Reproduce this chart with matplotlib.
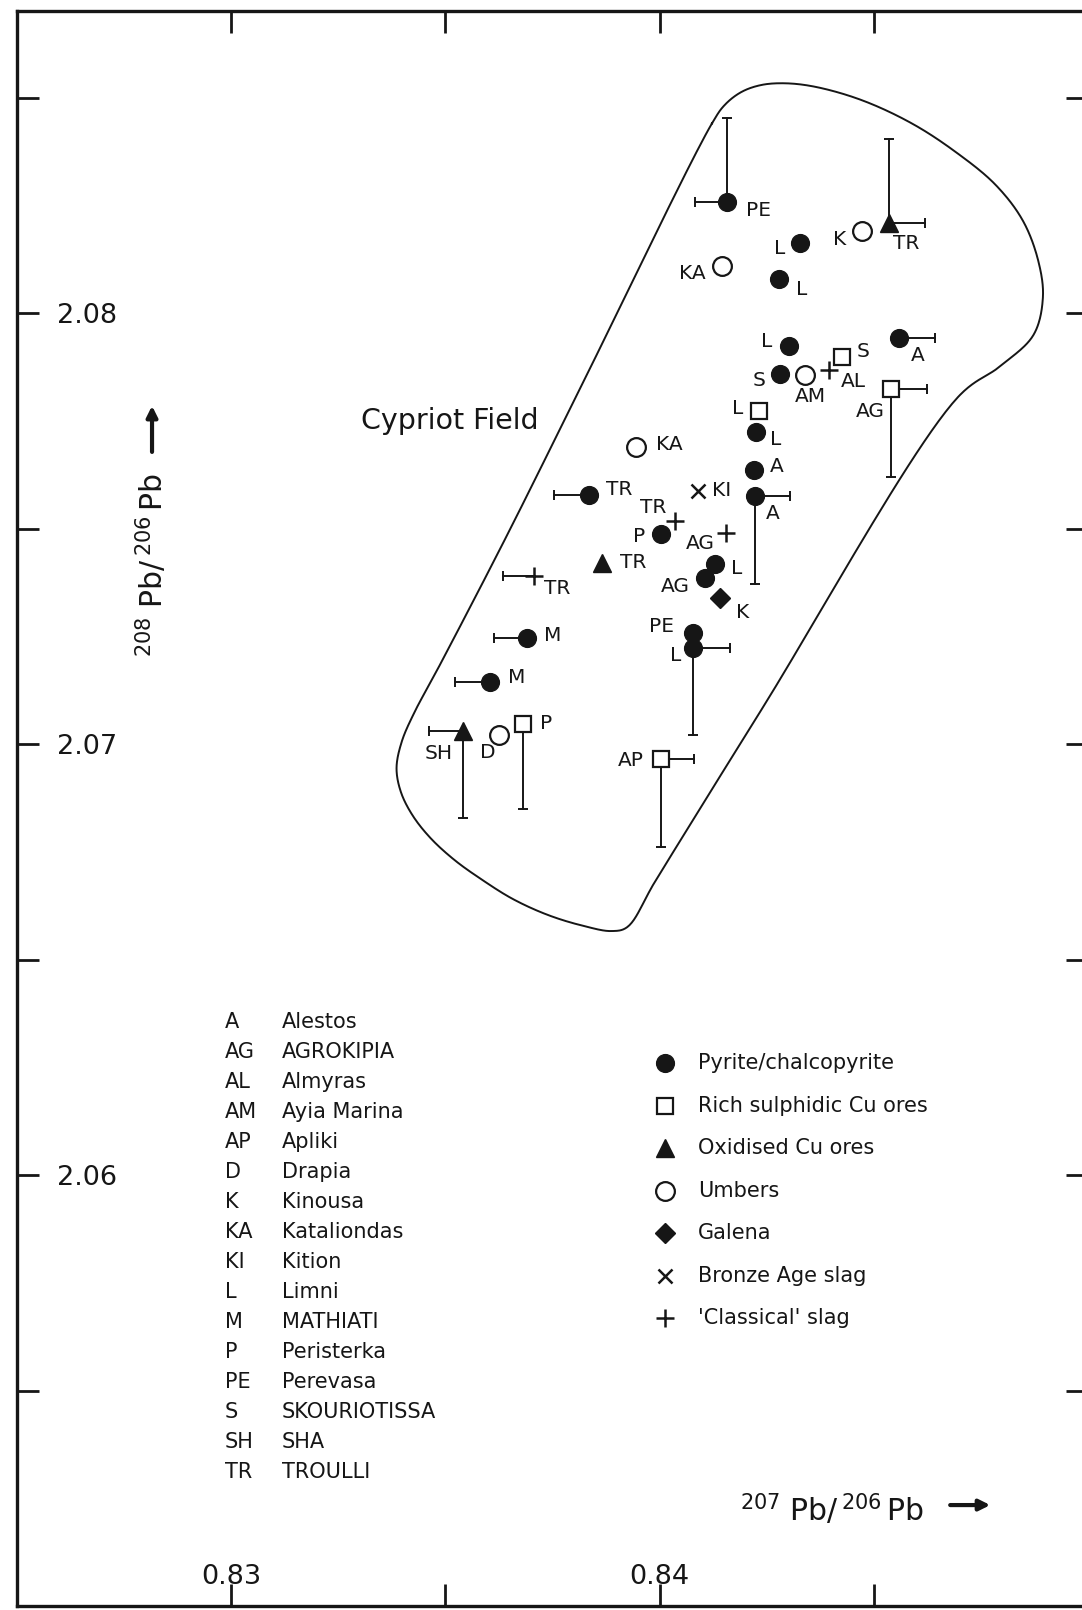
"""
Lead isotope diagram for Cypriot ores, umbers and slags:
208Pb/206Pb against 207Pb/206Pb with the Cypriot field outline.
"""
import matplotlib
matplotlib.use("Agg")
import matplotlib.pyplot as plt
import numpy as np

plt.rcParams['font.family'] = ['DejaVu Sans']
plt.rcParams['mathtext.fontset'] = 'dejavusans'

INK = '#161616'

# one entry per analysis
site = ['PE', 'L', 'KA', 'L', 'K', 'TR', 'L', 'A', 'S', 'S', 'AM', 'AL',
        'AG', 'L', 'L', 'KA', 'A', 'TR', 'KI', 'A', 'TR', 'P', 'AG', 'TR',
        'L', 'AG', 'K', 'TR', 'M', 'PE', 'L', 'M', 'SH', 'D', 'P', 'AP']
kind = ['pyrite', 'pyrite', 'umber', 'pyrite', 'umber', 'oxidised',
        'pyrite', 'pyrite', 'sulphidic', 'pyrite', 'umber', 'classical',
        'sulphidic', 'sulphidic', 'pyrite', 'umber', 'pyrite', 'pyrite',
        'bronze', 'pyrite', 'classical', 'pyrite', 'classical', 'oxidised',
        'pyrite', 'pyrite', 'galena', 'classical', 'pyrite', 'pyrite',
        'pyrite', 'pyrite', 'oxidised', 'umber', 'sulphidic', 'sulphidic']
pb207 = [0.84157, 0.84328, 0.84145, 0.84279, 0.84472, 0.84536, 0.84301,
         0.84559, 0.84425, 0.84280, 0.84338, 0.84396, 0.84540, 0.84232,
         0.84224, 0.83945, 0.84220, 0.83836, 0.84090, 0.84222, 0.84036,
         0.84004, 0.84155, 0.83866, 0.84130, 0.84105, 0.84141, 0.83707,
         0.83690, 0.84077, 0.84078, 0.83604, 0.83541, 0.83626, 0.83681,
         0.84003]
pb208 = [2.08257, 2.08162, 2.08110, 2.08078, 2.08191, 2.08208, 2.07924,
         2.07941, 2.07899, 2.07858, 2.07855, 2.07868, 2.07824, 2.07773,
         2.07725, 2.07688, 2.07636, 2.07578, 2.07588, 2.07575, 2.07518,
         2.07487, 2.07489, 2.07421, 2.07417, 2.07384, 2.07338, 2.07390,
         2.07245, 2.07257, 2.07222, 2.07145, 2.07030, 2.07021, 2.07046,
         2.06965]
# one-sided error bars, the sign gives the side
err207 = [-0.00075, 0, 0, 0, 0, 0.00083, 0, 0.00083, 0, 0, 0, 0, 0.00083,
          0, 0, 0, 0, -0.00082, 0, 0.00082, 0, 0, 0, 0, 0, 0, 0, -0.00073,
          -0.00077, 0, 0.00085, -0.00082, -0.00079, 0, 0, 0.00077]
err208 = [0.00195, 0, 0, 0, 0, 0.00195, 0, 0, 0, 0, 0, 0, -0.00204,
          0, 0, 0, 0, 0, 0, -0.00204, 0, 0, 0, 0, 0, 0, 0, 0,
          0, 0, -0.00200, 0, -0.00202, 0, -0.00197, -0.00203]
# where each site code sits relative to its point (pixels, y up)
label_offsets = [(32, -8), (-21, -5), (-30, -8), (22, -10), (-22, -9),
                 (17, -20), (-22, 4), (18, -17), (21, 5), (-21, -6),
                 (6, -21), (24, -12), (-21, -23), (-22, 2), (20, -8),
                 (33, 3), (23, 3), (30, 5), (23, 0), (18, -17), (-22, 13),
                 (-22, -2), (-26, -10), (31, 0), (21, -4), (-29, -8),
                 (22, -14), (23, -13), (26, 3), (-31, 7), (-18, -7),
                 (27, 4), (-24, -22), (-12, -18), (23, 1), (-30, -1)]

# outline of the Cypriot field
field_x = [0.84122, 0.84152, 0.84191, 0.84237, 0.84292, 0.84362, 0.84471,
           0.84588, 0.84690, 0.84784, 0.84848, 0.84884, 0.84894, 0.84872,
           0.84795, 0.84696, 0.84237, 0.83991, 0.83924, 0.83887, 0.83822,
           0.83740, 0.83658, 0.83587, 0.83521, 0.83465, 0.83423, 0.83396,
           0.83386, 0.83398, 0.83427, 0.83481, 0.83638, 0.83801]
field_y = [2.08440, 2.08483, 2.08513, 2.08529, 2.08533, 2.08525, 2.08494,
           2.08440, 2.08374, 2.08297, 2.08213, 2.08118, 2.08035, 2.07949,
           2.07877, 2.07805, 2.07079, 2.06684, 2.06575, 2.06566, 2.06578,
           2.06603, 2.06640, 2.06684, 2.06731, 2.06782, 2.06835, 2.06889,
           2.06944, 2.07005, 2.07072, 2.07172, 2.07473, 2.07798]

site_codes = ['A', 'AG', 'AL', 'AM', 'AP', 'D', 'K', 'KA', 'KI', 'L', 'M',
              'P', 'PE', 'S', 'SH', 'TR']
site_names = ['Alestos', 'AGROKIPIA', 'Almyras', 'Ayia Marina', 'Apliki',
              'Drapia', 'Kinousa', 'Kataliondas', 'Kition', 'Limni',
              'MATHIATI', 'Peristerka', 'Perevasa', 'SKOURIOTISSA', 'SHA',
              'TROULLI']

kind_order = ['pyrite', 'sulphidic', 'oxidised', 'umber', 'galena',
              'bronze', 'classical']
kind_labels = ['Pyrite/chalcopyrite', 'Rich sulphidic Cu ores',
               'Oxidised Cu ores', 'Umbers', 'Galena', 'Bronze Age slag',
               "'Classical' slag"]

STYLE = {
    'pyrite': dict(marker='o', ms=12.8, mfc=INK, mec=INK, mew=1.0),
    'sulphidic': dict(marker='s', ms=12, mfc='white', mec=INK, mew=1.6),
    'oxidised': dict(marker='^', ms=13.5, mfc=INK, mec=INK, mew=1.0),
    'umber': dict(marker='o', ms=13.5, mfc='white', mec=INK, mew=1.6),
    'galena': dict(marker='D', ms=10.5, mfc=INK, mec=INK, mew=1.0),
    'bronze': dict(marker='x', ms=10.5, mec=INK, mew=1.8),
    'classical': dict(marker='+', ms=13.5, mec=INK, mew=1.8),
}


def closed_curve(xs, ys, n=24, alpha=0.5):
    # centripetal Catmull-Rom through the outline points
    pts = np.column_stack([xs, ys]) * 1000.0
    m = len(pts)
    out = []
    for i in range(m):
        p0, p1, p2, p3 = (pts[(i - 1) % m], pts[i], pts[(i + 1) % m],
                          pts[(i + 2) % m])
        t0 = 0.0
        t1 = t0 + np.hypot(*(p1 - p0)) ** alpha
        t2 = t1 + np.hypot(*(p2 - p1)) ** alpha
        t3 = t2 + np.hypot(*(p3 - p2)) ** alpha
        t = np.linspace(t1, t2, n, endpoint=False)[:, None]
        a1 = (t1 - t) / (t1 - t0) * p0 + (t - t0) / (t1 - t0) * p1
        a2 = (t2 - t) / (t2 - t1) * p1 + (t - t1) / (t2 - t1) * p2
        a3 = (t3 - t) / (t3 - t2) * p2 + (t - t2) / (t3 - t2) * p3
        b1 = (t2 - t) / (t2 - t0) * a1 + (t - t0) / (t2 - t0) * a2
        b2 = (t3 - t) / (t3 - t1) * a2 + (t - t1) / (t3 - t1) * a3
        out.append((t2 - t) / (t2 - t1) * b1 + (t - t1) / (t2 - t1) * b2)
    out.append(out[0][:1])
    curve = np.vstack(out) / 1000.0
    return curve[:, 0], curve[:, 1]


fig = plt.figure(figsize=(10.82, 16.10), dpi=100)
ax = fig.add_axes([0.01553, 0.00248, 0.99030, 0.99050])
ax.set_xlim(0.825, 0.850)
ax.set_ylim(2.050, 2.087)

for side in ax.spines.values():
    side.set_linewidth(2.4)
    side.set_color(INK)

xt = [0.83, 0.835, 0.84, 0.845]
yt = [2.055, 2.06, 2.065, 2.07, 2.075, 2.08, 2.085]
ax.set_xticks(xt)
ax.set_xticklabels(['0.83', '', '0.84', ''])
ax.set_yticks(yt)
ax.set_yticklabels(['', '2.06', '', '2.07', '', '2.08', ''])
ax.tick_params(direction='in', length=16, width=2.0, color=INK,
               top=True, right=True, labelsize=19.5, labelcolor=INK)
ax.tick_params(axis='x', pad=-16)
ax.tick_params(axis='y', pad=-29)
for lab in ax.get_xticklabels():
    lab.set_va('baseline')
for lab in ax.get_yticklabels():
    lab.set_ha('left')

# Cypriot field
fx, fy = closed_curve(field_x, field_y)
ax.plot(fx, fy, color=INK, lw=1.4, zorder=1)
ax.text(0.8351, 2.0775, 'Cypriot Field', fontsize=20.5, color=INK,
        ha='center', va='center')

# error bars
for x, y, ex, ey in zip(pb207, pb208, err207, err208):
    if ex:
        ax.plot([x, x + ex], [y, y], color=INK, lw=1.4, zorder=2)
        ax.plot(x + ex, y, marker='|', ms=7, mew=1.4, color=INK, zorder=2)
    if ey:
        ax.plot([x, x], [y, y + ey], color=INK, lw=1.4, zorder=2)
        ax.plot(x, y + ey, marker='_', ms=7, mew=1.4, color=INK, zorder=2)

# points by sample type
for k in kind_order:
    xs = [x for x, kk in zip(pb207, kind) if kk == k]
    ys = [y for y, kk in zip(pb208, kind) if kk == k]
    ax.plot(xs, ys, ls='none', color=INK, zorder=3, **STYLE[k])

for code, x, y, off in zip(site, pb207, pb208, label_offsets):
    ax.annotate(code, (x, y), xytext=off, textcoords='offset pixels',
                ha='center', va='center', fontsize=14.5, color=INK, zorder=4)

# axis titles
ax.text(0.6749, 0.0533, r'$^{207}\;$Pb/$\,^{206}\,$Pb',
        transform=ax.transAxes, fontsize=21.5, color=INK,
        ha='left', va='baseline')
ax.annotate('', xy=(0.9085, 0.0633), xytext=(0.8711, 0.0633),
            xycoords='axes fraction',
            arrowprops=dict(arrowstyle='-|>', lw=3.0, color=INK,
                            mutation_scale=16, shrinkA=0, shrinkB=0))
ax.text(0.1262, 0.5951, r'$^{208}\;$Pb/$\,^{206}\,$Pb',
        transform=ax.transAxes, fontsize=21.5, color=INK, rotation=90,
        ha='center', va='bottom')
ax.annotate('', xy=(0.1262, 0.7526), xytext=(0.1262, 0.7237),
            xycoords='axes fraction',
            arrowprops=dict(arrowstyle='-|>', lw=3.0, color=INK,
                            mutation_scale=16, shrinkA=0, shrinkB=0))

# site key
row0, pitch = 0.3664, 0.01881
for i, (code, name) in enumerate(zip(site_codes, site_names)):
    yy = row0 - i * pitch
    ax.text(0.1943, yy, code, transform=ax.transAxes, fontsize=15,
            color=INK, ha='left', va='center')
    ax.text(0.2475, yy, name, transform=ax.transAxes, fontsize=15,
            color=INK, ha='left', va='center')

# sample type key
row0, pitch = 0.3403, 0.02665
for i, (k, label) in enumerate(zip(kind_order, kind_labels)):
    yy = row0 - i * pitch
    ax.plot(0.6049, yy, transform=ax.transAxes, ls='none', color=INK,
            clip_on=False, **STYLE[k])
    ax.text(0.6355, yy, label, transform=ax.transAxes, fontsize=15,
            color=INK, ha='left', va='center')

fig.savefig('out.png', dpi=100, facecolor='white')
